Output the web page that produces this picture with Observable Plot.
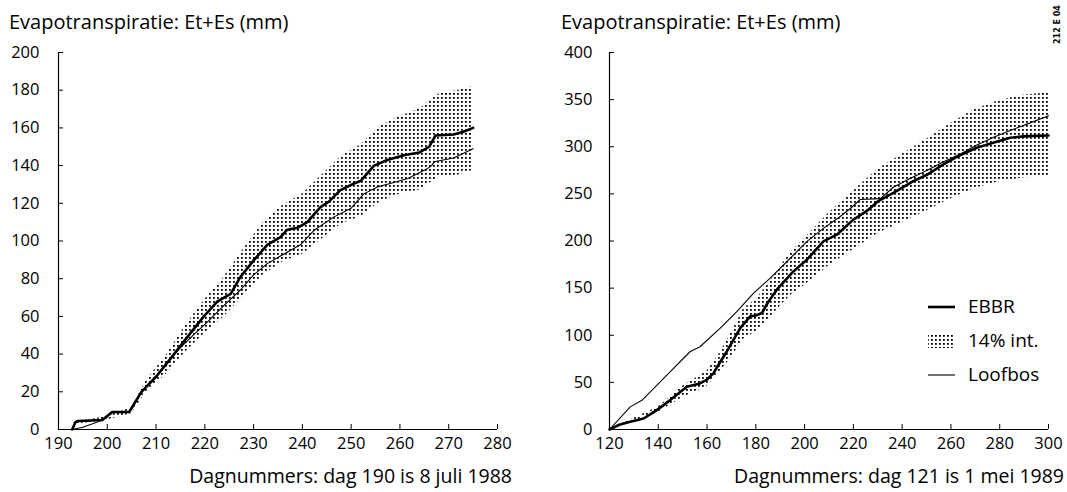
<!DOCTYPE html>
<html><head><meta charset="utf-8">
<script src="https://cdn.jsdelivr.net/npm/d3@7"></script>
<script src="https://cdn.jsdelivr.net/npm/@observablehq/plot@0.6"></script>
<style>
html,body{margin:0;padding:0;background:#fff;}
#wrap{position:relative;width:1067px;height:492px;overflow:hidden;font-family:"Open Sans",sans-serif;color:#000;}
.txt{position:absolute;white-space:nowrap;}
.t{font-size:19.5px;line-height:19.5px;}
.tt{font-size:20px;line-height:20px;}
.lg{font-size:19px;line-height:19px;}
.panel{position:absolute;top:0;}
.leg{position:absolute;}
</style></head><body>
<svg width="0" height="0" style="position:absolute">
  <defs>
    <pattern id="dots" width="4" height="4" patternUnits="userSpaceOnUse">
      <rect x="1" y="1" width="1.8" height="1.8" fill="#000"></rect>
    </pattern>
  </defs>
</svg>
<div id="wrap">
  <div id="left" class="panel" style="left:0px;"></div>
  <div id="right" class="panel" style="left:533px;"></div>
  <div class="txt tt" style="left:9px;top:12px;">Evapotranspiratie: Et+Es (mm)</div>
  <div class="txt tt" style="left:561px;top:12px;">Evapotranspiratie: Et+Es (mm)</div>
  <div class="txt t" style="right:555px;top:466px;">Dagnummers: dag 190 is 8 juli 1988</div>
  <div class="txt t" style="right:3px;top:466px;">Dagnummers: dag 121 is 1 mei 1989</div>
  <div class="txt" style="left:1040px;top:21px;width:36px;height:10px;font-size:8px;line-height:10px;font-weight:bold;transform:rotate(-90deg);font-family:'DejaVu Sans',sans-serif;">212 E 04</div>
  <svg class="leg" style="left:926px;top:298px;" width="32" height="86">
    <line x1="2" x2="29" y1="9" y2="9" stroke="#000" stroke-width="2.6"></line>
    <rect x="2" y="35" width="26" height="15" fill="url(#dots)"></rect>
    <line x1="2" x2="29" y1="77" y2="77" stroke="#000" stroke-width="1.1"></line>
  </svg>
  <div class="txt lg" style="left:968px;top:297px;">EBBR</div>
  <div class="txt lg" style="left:968px;top:331px;">14% int.</div>
  <div class="txt lg" style="left:968px;top:365px;">Loofbos</div>
</div>
<script>
// ---------- Left panel (1988) ----------
const leftXTicks = [190, 200, 210, 220, 230, 240, 250, 260, 270, 280];
const leftYTicks = [0, 20, 40, 60, 80, 100, 120, 140, 160, 180, 200];

const leftEbbrDay = [192.8, 193.5, 194, 199, 201, 204.5, 207, 210, 213.7, 216.4, 219.8, 222.6, 225.3, 227.3, 230.1, 232.8, 235.5, 236.9, 239, 241, 243.7, 245.5, 247.8, 250.6, 252, 254.7, 257.4, 260.8, 264, 266, 267.3, 271, 273, 275];
const leftEbbrVal = [0, 4, 4.5, 5, 9.3, 9.3, 20, 28, 40, 49, 60, 68, 72, 81, 90, 98, 102, 106, 107, 110, 118, 121, 127, 130.5, 132, 140, 143, 145.5, 147, 150, 156, 156.5, 158, 160];

const leftLoofDay = [192.8, 195, 197, 199, 201.3, 204.5, 207, 210, 213.7, 216, 218, 220.5, 224, 227.3, 230, 232.8, 235.5, 239.6, 242.4, 246.5, 249.9, 252.6, 255.4, 258, 261.6, 265.7, 266.5, 267, 271, 275];
const leftLoofVal = [0, 1.2, 3, 5, 9.3, 9.3, 20, 28, 40, 46, 51, 57, 66, 74, 82, 88, 92, 98, 105.7, 112.8, 117.2, 125, 128.7, 130.5, 133.2, 138.5, 140, 142, 144, 149];

const leftBandDay = [193, 200, 205, 208, 212, 216, 220, 224, 228, 232, 236, 240, 244, 248, 252, 256, 260, 264, 268, 272, 275];
const leftBandLow = [2.5, 5, 8.5, 20, 29, 41, 51, 60, 71, 82, 89, 93, 101, 109, 113, 121, 125, 127, 134, 135, 137.5];
const leftBandHigh = [3.5, 7, 11.5, 26, 39, 55, 69, 81, 96, 110, 119, 125, 135, 145, 151, 161, 166, 170, 178, 180, 182];

// ---------- Right panel (1989) ----------
const rightXTicks = [120, 140, 160, 180, 200, 220, 240, 260, 280, 300];
const rightYTicks = [0, 50, 100, 150, 200, 250, 300, 350, 400];

const rightEbbrDay = [120, 124, 128.5, 134, 139.4, 144.9, 151.7, 157.1, 160, 162.6, 165, 168.1, 173.6, 177.7, 180, 182.5, 185, 188.6, 195.5, 200.9, 207.7, 213.2, 220, 225.4, 230, 236.4, 244.6, 250, 256.9, 263, 270.6, 277, 284.3, 290, 295, 300];
const rightEbbrVal = [0, 5, 8.2, 11.7, 20.6, 31.2, 45.4, 48.9, 53, 59.6, 70, 82.8, 107.5, 120, 121, 123.6, 135, 148.4, 168, 180, 199.6, 206.7, 222.7, 231.6, 242, 251, 263.5, 270, 281.2, 290, 298.9, 304, 309.6, 311, 311.5, 312];

const rightLoofDay = [120, 128.5, 133.3, 143.5, 153, 157.1, 165.3, 172.2, 179, 185.8, 192.7, 200.9, 207.7, 214.6, 219, 222.8, 231, 236.4, 243, 250.1, 257, 263.9, 270, 277.5, 284, 291.2, 300];
const rightLoofVal = [0, 24, 31, 57.8, 82.5, 87.8, 107.3, 125, 144.5, 160.4, 178, 199.3, 213.4, 226, 235, 244, 245, 257, 266, 274.7, 284, 292.4, 301, 310, 317, 324, 333];

const rightBandDay = [120, 140, 150, 160, 165, 170, 175, 180, 185, 190, 195, 200, 210, 220, 230, 240, 250, 260, 270, 280, 290, 300];
const rightBandLow = [0, 18, 34, 46, 60, 77, 96, 104, 116, 131, 144, 153, 174, 191, 208, 220, 232, 245, 256, 263, 267, 268];
const rightBandHigh = [0, 24, 46, 62, 80, 103, 128, 138, 154, 173, 190, 203, 230, 253, 276, 292, 308, 325, 340, 349, 355, 357];

const toRows = (days, vals) => days.map((d, i) => ({day: d, val: vals[i]}));
const toBand = (days, lo, hi) => days.map((d, i) => ({day: d, lo: lo[i], hi: hi[i]}));

function panel({xDomain, yDomain, xTicks, yTicks, ebbr, loof, band, width, marginLeft, marginRight, yPad}) {
  return Plot.plot({
    width, height: 492,
    marginLeft, marginRight, marginTop: 52, marginBottom: 63,
    style: {fontFamily: "'Open Sans', sans-serif", fontSize: "16.5px", background: "transparent", color: "#000", overflow: "visible"},
    x: {domain: xDomain, label: null},
    y: {domain: yDomain, label: null},
    marks: [
      Plot.areaY(band, {x: "day", y1: "lo", y2: "hi", fill: "url(#dots)"}),
      Plot.line(loof, {x: "day", y: "val", stroke: "#000", strokeWidth: 1.1}),
      Plot.line(ebbr, {x: "day", y: "val", stroke: "#000", strokeWidth: 2.6}),
      Plot.ruleY([yDomain[0]], {stroke: "#000", strokeWidth: 1.2}),
      Plot.ruleX([xDomain[0]], {stroke: "#000", strokeWidth: 1.2}),
      Plot.axisX({ticks: xTicks, tickSize: -5, tickPadding: 13, tickFormat: d => String(d), label: null}),
      Plot.axisY({ticks: yTicks, tickSize: -5, tickPadding: yPad, tickFormat: d => String(d), label: null})
    ]
  });
}

document.getElementById("left").append(panel({
  xDomain: [190, 280], yDomain: [0, 200], xTicks: leftXTicks, yTicks: leftYTicks,
  ebbr: toRows(leftEbbrDay, leftEbbrVal), loof: toRows(leftLoofDay, leftLoofVal),
  band: toBand(leftBandDay, leftBandLow, leftBandHigh),
  width: 533, marginLeft: 58, marginRight: 36, yPad: 24
}));
document.getElementById("right").append(panel({
  xDomain: [120, 300], yDomain: [0, 400], xTicks: rightXTicks, yTicks: rightYTicks,
  ebbr: toRows(rightEbbrDay, rightEbbrVal), loof: toRows(rightLoofDay, rightLoofVal),
  band: toBand(rightBandDay, rightBandLow, rightBandHigh),
  width: 534, marginLeft: 76, marginRight: 19, yPad: 22
}));
</script>
</body></html>
